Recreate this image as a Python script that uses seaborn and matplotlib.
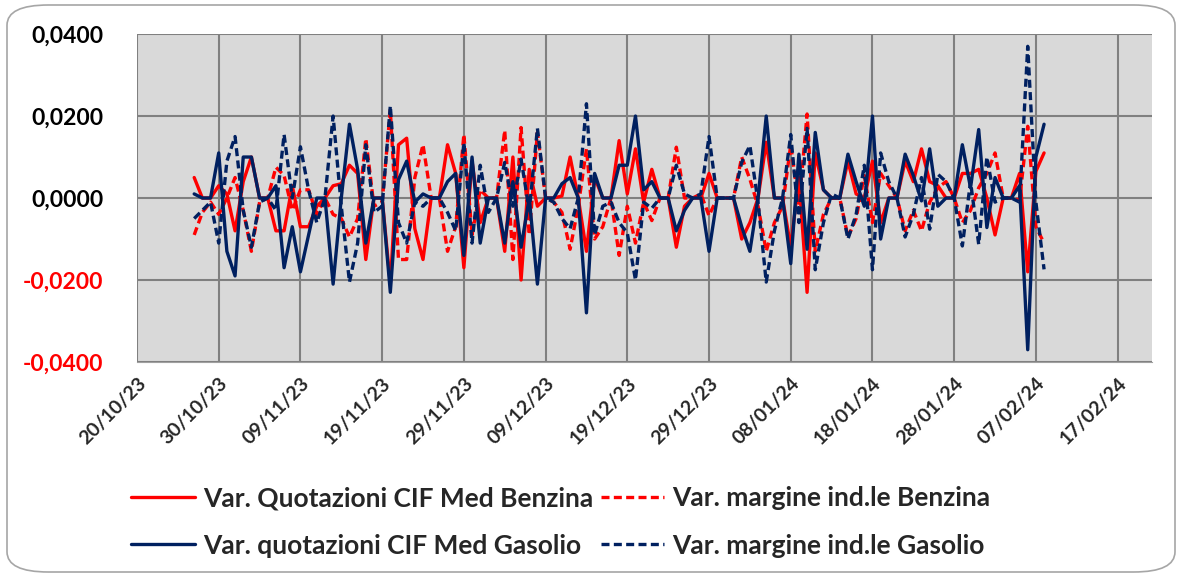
import matplotlib
matplotlib.use('Agg')
import matplotlib.pyplot as plt
import matplotlib.dates as mdates
from matplotlib.patches import FancyBboxPatch
from matplotlib.ticker import FuncFormatter
import seaborn as sns
import pandas as pd

sns.set_style('white')
plt.rcParams['font.family'] = ['Lato', 'DejaVu Sans']

# daily observations 27/10/23 - 08/02/24
dates = pd.date_range('2023-10-27', '2024-02-08', freq='D')

quot_benzina = [
    0.005, 0.000, 0.000, 0.003, 0.001, -0.008, 0.004, 0.010, 0.000, 0.000, -0.008, -0.008, 0.003, -0.007, -0.007, -0.002, 0.000, 0.003,
    0.0035, 0.008, 0.006, -0.015, 0.000, 0.000, -0.021, 0.013, 0.0146, -0.0075, -0.015, 0.000, 0.000, 0.013, 0.006, -0.017, 0.009,
    -0.006, 0.000, 0.000, -0.013, 0.010, -0.020, 0.007, -0.002, 0.000, 0.000, 0.0005, 0.010, 0.000, -0.013, 0.005, 0.000, 0.000, 0.014,
    0.001, 0.012, -0.001, 0.007, 0.000, 0.000, -0.012, -0.002, 0.000, 0.000, 0.006, 0.000, 0.000, 0.000, -0.010, -0.006, 0.000, 0.0136,
    0.000, 0.000, -0.012, 0.005, -0.023, 0.011, 0.002, 0.000, 0.000, 0.009, 0.001, 0.000, 0.009, -0.006, 0.000, 0.000, 0.009, 0.004,
    0.012, 0.004, 0.003, 0.000, 0.000, 0.006, 0.006, 0.007, 0.000, -0.009, 0.000, 0.000, 0.006, -0.018, 0.0065, 0.011,
]
margine_benzina = [
    -0.009, -0.0035, -0.001, -0.004, 0.000, 0.005, -0.003, -0.013, -0.001, 0.000, 0.0075, 0.0055, -0.003, 0.002, 0.002, -0.004, 0.000, -0.004,
    -0.005, -0.0095, -0.005, 0.0145, -0.002, -0.001, 0.0215, -0.015, -0.015, 0.005, 0.013, 0.000, 0.000, -0.013, -0.007, 0.0155, -0.009,
    0.002, 0.000, 0.000, 0.0165, -0.015, 0.0172, -0.009, 0.016, 0.000, -0.001, -0.0035, -0.0125, -0.002, 0.012, -0.010, -0.007, 0.000, -0.014,
    -0.002, -0.011, -0.001, -0.0055, 0.000, 0.000, 0.0124, 0.000, 0.000, 0.001, -0.0043, 0.000, 0.000, 0.000, 0.010, 0.0046, -0.002, -0.013,
    -0.006, -0.002, 0.013, -0.002, 0.0205, -0.013, -0.004, 0.000, 0.000, -0.0095, -0.005, 0.0055, -0.006, 0.006, 0.003, 0.000, -0.008, -0.003,
    -0.008, -0.001, 0.0025, 0.004, 0.000, -0.006, -0.003, 0.0025, 0.006, 0.011, 0.000, 0.000, -0.0005, 0.0175, -0.007, -0.011,
]
quot_gasolio = [
    0.001, 0.000, 0.000, 0.011, -0.013, -0.019, 0.010, 0.010, 0.000, 0.000, 0.003, -0.017, -0.007, -0.018, -0.009, 0.000, 0.000, -0.021,
    0.000, 0.018, 0.007, -0.011, 0.000, 0.000, -0.023, 0.0045, 0.009, -0.001, 0.001, 0.000, 0.000, 0.004, 0.006, -0.014, 0.010,
    -0.011, 0.000, 0.000, -0.011, 0.004, -0.012, 0.000, -0.021, 0.000, 0.000, 0.0035, 0.005, 0.000, -0.028, 0.006, 0.000, 0.000, 0.008,
    0.008, 0.020, 0.002, 0.004, 0.000, 0.000, -0.008, -0.003, 0.000, 0.000, -0.013, 0.000, 0.000, 0.000, -0.007, -0.013, 0.000, 0.020,
    0.000, 0.000, -0.016, 0.0107, -0.0125, 0.016, 0.002, 0.000, 0.000, 0.0107, 0.004, -0.002, 0.020, -0.010, 0.000, 0.000, 0.0107, 0.0055,
    -0.0007, 0.012, -0.002, 0.000, 0.000, 0.013, 0.0025, 0.0167, -0.0072, 0.005, 0.000, 0.000, 0.003, -0.037, 0.010, 0.018,
]
margine_gasolio = [
    -0.005, -0.003, -0.001, -0.011, 0.009, 0.015, -0.003, -0.012, -0.001, 0.000, -0.003, 0.0155, 0.000, 0.0125, 0.002, -0.006, 0.000, 0.020,
    -0.002, -0.0205, -0.011, 0.013, -0.0035, -0.002, 0.0225, -0.006, -0.011, -0.001, -0.002, 0.000, 0.000, -0.0035, -0.008, 0.0135, -0.011,
    0.008, -0.0035, 0.000, 0.0087, -0.002, 0.0095, -0.003, 0.017, 0.000, -0.001, -0.005, -0.0075, 0.000, 0.023, -0.009, -0.002, -0.001, -0.006,
    -0.0085, -0.020, -0.001, -0.0025, 0.000, 0.000, 0.008, 0.001, 0.000, 0.001, 0.015, 0.000, 0.000, 0.000, 0.0087, 0.0128, -0.001, -0.0205,
    -0.008, 0.000, 0.0155, -0.006, 0.017, -0.0175, -0.006, 0.001, 0.000, -0.010, -0.004, 0.008, -0.0175, 0.011, 0.004, 0.000, -0.0095, -0.004,
    0.005, -0.0076, 0.0058, 0.004, 0.000, -0.0117, 0.004, -0.0113, 0.010, -0.001, 0.000, 0.000, -0.001, 0.037, -0.001, -0.0174,
]

x_ticks = pd.date_range('2023-10-20', periods=13, freq='10D')
y_ticks = [-0.04, -0.02, 0.0, 0.02, 0.04]

RED = '#ff0000'
NAVY = '#002060'

fig = plt.figure(figsize=(11.83, 5.77), dpi=100)

# rounded frame around the whole chart
frame = FancyBboxPatch((7 / 1183, 5 / 577), 1168 / 1183, 567 / 577,
                       boxstyle='round,pad=0,rounding_size=0.035',
                       transform=fig.transFigure, facecolor='none',
                       edgecolor='#a6a6a6', linewidth=1.2, zorder=0)
fig.patches.append(frame)

ax = fig.add_axes([0.1158, 0.3726, 0.858, 0.5684])
ax.set_facecolor('#d9d9d9')

dash = (0, (2.4, 1.3))
lw = 2.4
sns.lineplot(x=dates, y=quot_benzina, ax=ax, color=RED, linewidth=lw,
             label='Var. Quotazioni CIF Med Benzina')
sns.lineplot(x=dates, y=margine_benzina, ax=ax, color=RED, linewidth=lw,
             linestyle=dash, label='Var. margine ind.le Benzina')
sns.lineplot(x=dates, y=quot_gasolio, ax=ax, color=NAVY, linewidth=lw,
             label='Var. quotazioni CIF Med Gasolio')
sns.lineplot(x=dates, y=margine_gasolio, ax=ax, color=NAVY, linewidth=lw,
             linestyle=dash, label='Var. margine ind.le Gasolio')

ax.set_xlim(pd.Timestamp('2023-10-20'), pd.Timestamp('2024-02-21 05:00'))
ax.set_ylim(-0.04, 0.04)
ax.set_xticks(x_ticks)
ax.xaxis.set_major_formatter(mdates.DateFormatter('%d/%m/%y'))
ax.set_yticks(y_ticks)
ax.yaxis.set_major_formatter(FuncFormatter(lambda v, p: f'{v:.4f}'.replace('.', ',')))

ax.grid(True, color='#808080', linewidth=1.5)
ax.set_axisbelow(True)
for s in ax.spines.values():
    s.set_visible(False)
ax.spines['bottom'].set_visible(True)
ax.spines['bottom'].set_color('#a0a0a0')

ax.tick_params(axis='x', length=6, color='#a0a0a0', width=1, pad=3, labelsize=14)
ax.tick_params(axis='y', length=0, pad=24, labelsize=16.5)
for lab in ax.get_xticklabels():
    lab.set_rotation(45)
    lab.set_ha('right')
    lab.set_rotation_mode('anchor')
    lab.set_fontweight('bold')
for t, v in zip(ax.yaxis.get_major_ticks(), y_ticks):
    t.label1.set_fontweight('bold')
    t.label1.set_color(RED if v < 0 else 'black')

ax.set_xlabel('')
ax.set_ylabel('')

handles, labels = ax.get_legend_handles_labels()
ax.get_legend().remove()
order = [0, 2, 1, 3]
fig.legend([handles[i] for i in order], [labels[i] for i in order],
           loc='upper left', bbox_to_anchor=(0.1, 0.18), ncol=2,
           frameon=False, prop={'weight': 'bold', 'size': 19},
           handlelength=2.4, handletextpad=0.3, columnspacing=0.3,
           labelspacing=0.88, borderpad=0)

fig.savefig('out.png', dpi=100)
